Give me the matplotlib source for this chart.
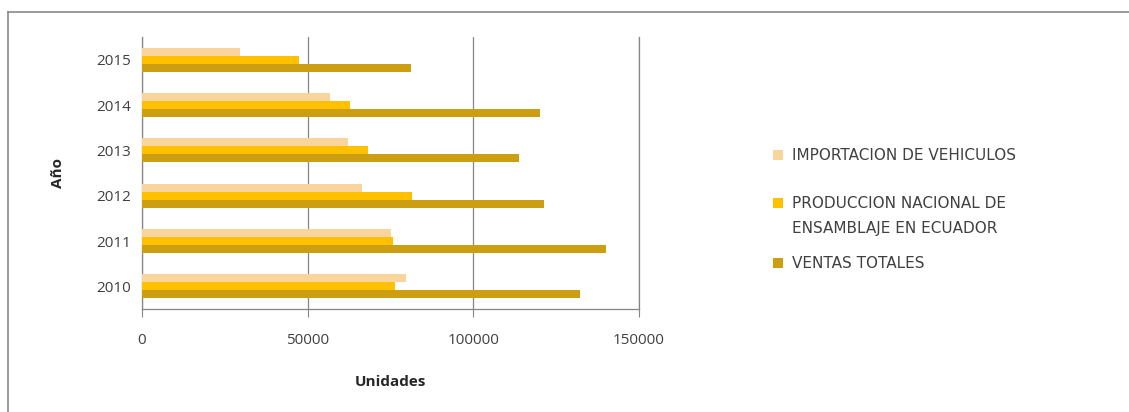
import matplotlib
matplotlib.use("Agg")
import matplotlib.pyplot as plt
import numpy as np
from matplotlib.patches import Rectangle
from matplotlib.lines import Line2D

years = ["2010", "2011", "2012", "2013", "2014", "2015"]
importacion = [79600, 75100, 66400, 62300, 56800, 29700]
produccion = [76400, 75600, 81400, 68300, 62900, 47400]
ventas = [132200, 139900, 121400, 113800, 120000, 81300]

series_names = [
    "IMPORTACION DE VEHICULOS",
    "PRODUCCION NACIONAL DE\nENSAMBLAJE EN ECUADOR",
    "VENTAS TOTALES",
]
colors = ["#F9D49C", "#FFC000", "#CC9E12"]
xticks = [0, 50000, 100000, 150000]

plt.rcParams["font.family"] = ["Open Sans", "DejaVu Sans"]

W, H = 1129, 412
fig = plt.figure(figsize=(W / 100, H / 100), dpi=100)
ax = fig.add_axes([0.1258, 0.25, 0.4402, 0.66])

y = np.arange(len(years))
h = 0.177
for vals, off, col in zip([importacion, produccion, ventas], [h, 0, -h], colors):
    ax.barh(y + off, vals, height=h, color=col, zorder=3)

ax.set_xlim(0, 150000)
ax.set_ylim(-0.5, len(years) - 0.5)
ax.set_xticks(xticks)
ax.set_xticklabels([str(t) for t in xticks], fontsize=11, color="#404040")
ax.set_yticks(y)
ax.set_yticklabels(years, fontsize=11, color="#404040")
ax.tick_params(axis="y", length=0, pad=8)
ax.tick_params(axis="x", length=6, color="#868686", pad=11, direction="out")
ax.grid(axis="x", color="#868686", linewidth=0.9, zorder=0)
ax.axvline(150000, color="#868686", linewidth=0.9, zorder=0, clip_on=False)
for s in ["top", "right"]:
    ax.spines[s].set_visible(False)
for s in ["left", "bottom"]:
    ax.spines[s].set_color("#868686")
    ax.spines[s].set_linewidth(0.9)

ax.set_xlabel("Unidades", fontsize=11, fontweight="bold", color="#262626", labelpad=20)
ax.set_ylabel("Año", fontsize=11, fontweight="bold", color="#262626", labelpad=22)

# legend: swatch aligned with the first line of each entry
legend_rows = [155, 203, 263]   # pixel rows from the top
line_gap = 26
for name, col, row in zip(series_names, colors, legend_rows):
    fig.add_artist(Rectangle(((773) / W, 1 - (row + 5) / H), 10 / W, 10 / H,
                             facecolor=col, edgecolor="none", transform=fig.transFigure))
    for k, line in enumerate(name.split("\n")):
        fig.text(792 / W, 1 - (row + k * line_gap) / H, line, ha="left", va="center",
                 fontsize=11, color="#404040", family="DejaVu Sans")

# outer chart frame (top and left edges)
fig.add_artist(Line2D([0.007, 1.0], [1 - 12 / H, 1 - 12 / H], color="#8a8a8a",
                      linewidth=1.2, transform=fig.transFigure))
fig.add_artist(Line2D([0.007, 0.007], [0.0, 1 - 12 / H], color="#8a8a8a",
                      linewidth=1.2, transform=fig.transFigure))

fig.savefig("out.png", dpi=100, facecolor="white")
